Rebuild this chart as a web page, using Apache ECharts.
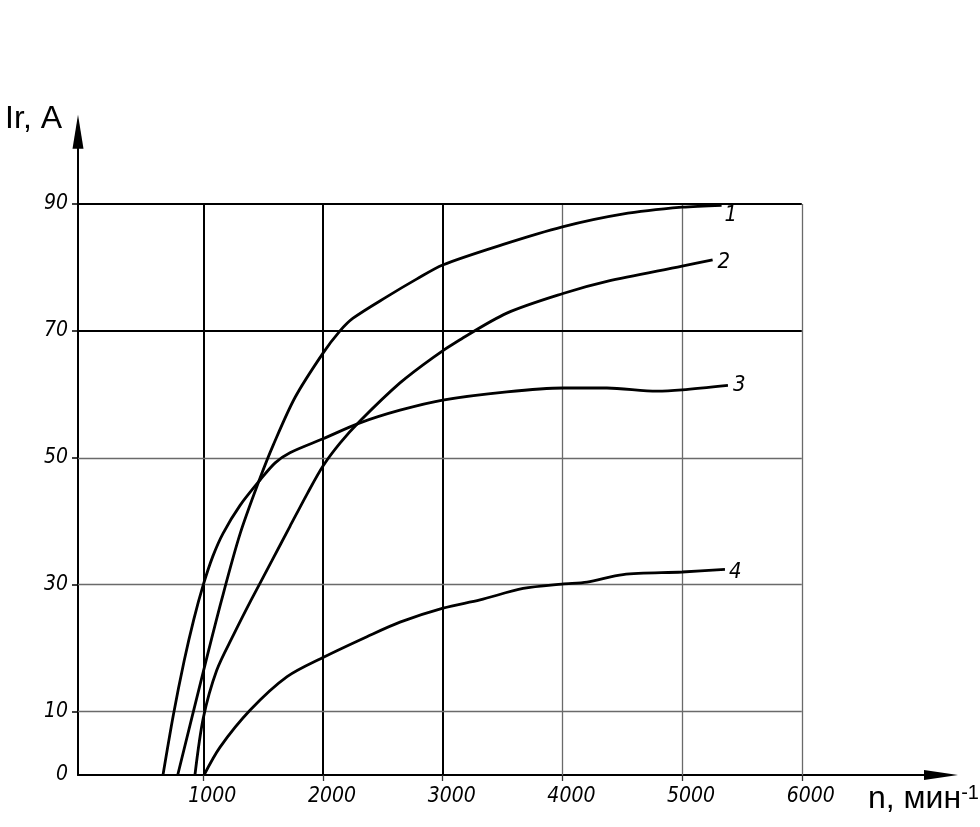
<!DOCTYPE html>
<html>
<head>
<meta charset="utf-8">
<script src="https://cdn.jsdelivr.net/npm/echarts@6/dist/echarts.min.js"></script>
<style>
html,body{margin:0;padding:0;background:#fff;}
#chart{width:980px;height:827px;}
</style>
</head>
<body>
<div id="chart"></div>
<script>
// ---- data ----
const curveNames = ['1', '2', '3', '4'];
const curve1 = [[786,0],[1000,16.3],[1153,27.6],[1307,38],[1474,46.8],[1584,52],[1766,59.5],[2000,66.5],[2142,70],[2251,72],[2535,75.4],[2785,78.2],[3000,80.4],[3500,83.6],[4000,86.4],[4500,88.4],[5000,89.5],[5330,89.8]];
const curve2 = [[930,0],[1000,9],[1112,16.5],[1250,22],[1400,27.6],[1571,33.7],[1724,39.2],[1870,44.4],[2000,48.7],[2142,52.3],[2309,55.8],[2643,61.8],[2919,65.8],[3144,68.6],[3536,72.8],[4005,75.9],[4372,77.8],[5000,80.2],[5255,81.2]];
const curve3 = [[663,0],[750,9.5],[840,18],[920,24.5],[1000,30],[1080,34.5],[1165,38.1],[1307,42.5],[1474,46.5],[1600,49.2],[1724,50.8],[2000,53],[2309,55.5],[2643,57.5],[3000,59.1],[3536,60.4],[4005,61],[4372,61],[4790,60.5],[5000,60.7],[5383,61.4]];
const curve4 = [[1006,0],[1140,4.4],[1390,10.2],[1700,15.5],[2008,18.6],[2367,21.8],[2643,24.1],[3003,26.3],[3312,27.6],[3672,29.4],[3997,30.1],[4206,30.4],[4507,31.6],[5000,32],[5358,32.4]];
const xTickLabels = [1000, 2000, 3000, 4000, 5000, 6000];
const yTickLabels = [0, 10, 30, 50, 70, 90];
const gridX = [1000, 2000, 3000, 4000, 5000, 6000];
const gridY = [10, 30, 50, 70, 90];
const boldGridX = [1000, 2000, 3000];
const boldGridY = [70, 90];
const xName = 'n, мин';
const xNameSup = '-1';
const yName = 'Ir, A';

// ---- layout / style ----
const X_MIN = -47, X_MAX = 7163, Y_MAX = 101.4;
const GRID_X_END = 6000, GRID_Y_END = 90;
const labelFont = "'Liberation Sans Narrow', 'DejaVu Sans Condensed', sans-serif";
const nameFont = "'Liberation Sans', Arial, sans-serif";
const boldStyle = {color: '#000', width: 2, type: 'solid'};
const thinStyle = {color: '#6a6a6a', width: 1.3, type: 'solid'};

const gridLines = [];
gridX.forEach(v => {
  gridLines.push([{coord: [v, 0], lineStyle: boldGridX.includes(v) ? boldStyle : thinStyle}, {coord: [v, GRID_Y_END]}]);
});
gridY.forEach(v => {
  gridLines.push([{coord: [X_MIN, v], lineStyle: boldGridY.includes(v) ? boldStyle : thinStyle}, {coord: [GRID_X_END, v]}]);
});

const curves = [curve1, curve2, curve3, curve4];
const endOffsets = [[-2, 10], [0, 2], [0, 0], [-1, 3]];

const series = [{
  type: 'line',
  data: [],
  z: 1,
  silent: true,
  markLine: {
    silent: true,
    symbol: ['none', 'none'],
    label: {show: false},
    emphasis: {disabled: true},
    animation: false,
    data: gridLines
  }
}];
curves.forEach((c, i) => {
  series.push({
    name: curveNames[i],
    type: 'line',
    data: c,
    smooth: 0.3,
    showSymbol: false,
    z: 5,
    lineStyle: {color: '#000', width: 2.8},
    endLabel: {
      show: true,
      formatter: '{a}',
      distance: 5,
      offset: endOffsets[i],
      color: '#000',
      fontSize: 22,
      fontStyle: 'italic',
      fontFamily: labelFont
    },
    emphasis: {disabled: true}
  });
});

const chart = echarts.init(document.getElementById('chart'), null, {renderer: 'canvas'});
chart.setOption({
  animation: false,
  backgroundColor: '#fff',
  grid: {left: 78, right: 39, top: 131.7, bottom: 52, containLabel: false, outerBoundsMode: 'none'},
  xAxis: {
    type: 'value',
    min: X_MIN,
    max: X_MAX,
    splitLine: {show: false},
    axisLine: {show: true, onZero: false, symbol: ['none', 'triangle'], symbolSize: [10, 34], lineStyle: {color: '#000', width: 2}},
    axisTick: {show: true, customValues: xTickLabels, length: 6, lineStyle: {color: '#333', width: 1.3}},
    axisLabel: {
      customValues: xTickLabels,
      formatter: v => String(v),
      margin: 11,
      color: '#000',
      fontSize: 21,
      fontStyle: 'italic',
      fontFamily: labelFont,
      padding: [0, 0, 0, 18]
    },
    name: xName + '{sup|' + xNameSup + '}',
    nameLocation: 'end',
    nameGap: -73,
    nameTextStyle: {
      color: '#000',
      fontSize: 32,
      fontFamily: nameFont,
      align: 'left',
      verticalAlign: 'top',
      lineHeight: 32,
      padding: [8, 0, 0, 0],
      rich: {sup: {fontSize: 20, fontFamily: nameFont, color: '#000', verticalAlign: 'top', padding: [0, 0, 14, 0]}}
    }
  },
  yAxis: {
    type: 'value',
    min: 0,
    max: Y_MAX,
    splitLine: {show: false},
    axisLine: {show: true, onZero: false, symbol: ['none', 'triangle'], symbolSize: [11, 34], lineStyle: {color: '#000', width: 2}},
    axisTick: {show: true, customValues: gridY, length: 6, lineStyle: {color: '#000', width: 1.5}},
    axisLabel: {
      customValues: yTickLabels,
      formatter: v => String(v),
      margin: 10,
      color: '#000',
      fontSize: 21,
      fontStyle: 'italic',
      fontFamily: labelFont
    },
    name: yName,
    nameLocation: 'end',
    nameGap: -3,
    nameTextStyle: {
      color: '#000',
      fontSize: 32,
      fontFamily: nameFont,
      align: 'right',
      verticalAlign: 'bottom',
      lineHeight: 32,
      padding: [0, 16, 0, 0]
    }
  },
  series: series
});
</script>
</body>
</html>
